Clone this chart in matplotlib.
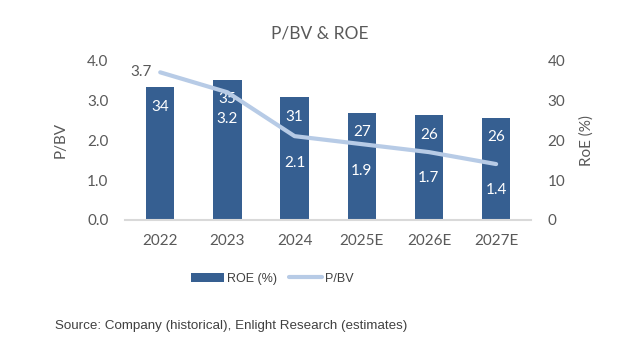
import matplotlib.pyplot as plt
import numpy as np

years = ['2022', '2023', '2024', '2025E', '2026E', '2027E']
roe = [34, 35, 31, 27, 26, 26]
roe_raw = [33.2, 35.2, 30.8, 26.8, 26.2, 25.6]
pbv = [3.7, 3.2, 2.1, 1.9, 1.7, 1.4]

bar_color = '#365F91'
line_color = '#B7CBE6'
text_color = '#595959'

plt.rcParams['font.family'] = ['Lato', 'DejaVu Sans']

fig = plt.figure(figsize=(6.36, 3.53), dpi=100)
ax = fig.add_axes([0.197, 0.377, 0.638, 0.452])
ax2 = ax.twinx()

x = np.arange(len(years))

# bars on the right axis (ROE), line on the left axis (P/BV)
bars = ax2.bar(x, roe_raw, width=0.42, color=bar_color, label='ROE (%)', zorder=1)
ax2.set_ylim(0, 40)
ax2.set_yticks([0, 10, 20, 30, 40])
ax2.set_ylabel('RoE (%)', color=text_color, fontsize=11, labelpad=10)

ax.set_zorder(ax2.get_zorder() + 1)
ax.patch.set_visible(False)
line, = ax.plot(x, pbv, color=line_color, lw=3, label='P/BV', solid_capstyle='round')
ax.set_ylim(0, 4)
ax.set_yticks([0, 1, 2, 3, 4])
ax.set_yticklabels(['%.1f' % v for v in [0, 1, 2, 3, 4]])
ax.set_ylabel('P/BV', color=text_color, fontsize=11, labelpad=14)
ax.set_xlim(-0.52, len(years) - 0.48)
ax.set_xticks(x)
ax.set_xticklabels(years)

for a in (ax, ax2):
    for s in a.spines.values():
        s.set_visible(False)
    a.tick_params(length=0, labelsize=11, colors=text_color, pad=12)
ax.spines['bottom'].set_visible(True)
ax.spines['bottom'].set_color('#D9D9D9')
ax.spines['bottom'].set_linewidth(1.5)
ax.tick_params(axis='x', pad=10)

for xi, r, h in zip(x, roe, roe_raw):
    ax2.annotate(str(r), (xi, h), xytext=(0, -14), textcoords='offset points',
                 ha='center', va='center', color='white', fontsize=11)

for i, (xi, v) in enumerate(zip(x, pbv)):
    if i == 0:
        ax.annotate('%.1f' % v, (xi, v), xytext=(-14, 0), textcoords='offset points',
                    ha='center', va='center', color=text_color, fontsize=11)
    else:
        ax.annotate('%.1f' % v, (xi, v), xytext=(0, -19), textcoords='offset points',
                    ha='center', va='center', color='white', fontsize=11)

fig.text(0.503, 0.905, 'P/BV & ROE', ha='center', va='center', fontsize=12.5, color=text_color)

fig.legend([bars, line], ['ROE (%)', 'P/BV'], loc='center', bbox_to_anchor=(0.428, 0.21),
           ncol=2, frameon=False,
           prop={'family': 'Liberation Sans', 'size': 9},
           labelcolor='#404040', handlelength=2.6, handletextpad=0.25, columnspacing=1.0)

fig.text(0.086, 0.076, 'Source: Company (historical), Enlight Research (estimates)',
         ha='left', va='center', fontsize=9.6, color='#404040', family='Liberation Sans')

fig.savefig('out.png', dpi=100)
